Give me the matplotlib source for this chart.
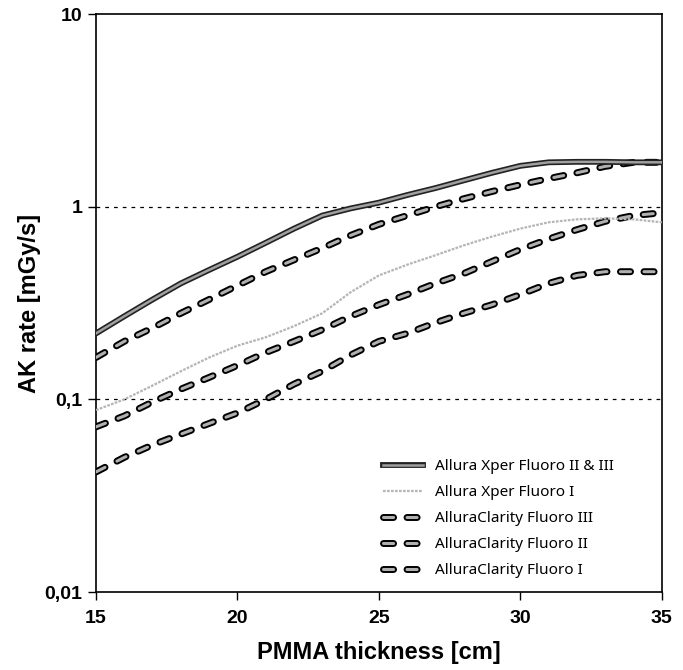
import numpy as np
import matplotlib
matplotlib.use('Agg')
import matplotlib.pyplot as plt
import matplotlib.patheffects as pe
from matplotlib.ticker import FixedLocator, FixedFormatter, NullLocator

# PMMA thickness [cm]
thickness = [15, 16, 17, 18, 19, 20, 21, 22, 23, 24, 25,
             26, 27, 28, 29, 30, 31, 32, 33, 34, 35]

# AK rate [mGy/s]
xper_2_3 = [0.22, 0.27, 0.33, 0.40, 0.47, 0.55, 0.65, 0.77, 0.90, 0.98, 1.05,
            1.15, 1.25, 1.37, 1.50, 1.63, 1.70, 1.71, 1.71, 1.70, 1.70]
xper_1 = [0.088, 0.10, 0.118, 0.14, 0.165, 0.19, 0.21, 0.24, 0.28, 0.36, 0.44,
          0.50, 0.56, 0.63, 0.70, 0.77, 0.83, 0.86, 0.87, 0.86, 0.83]
clarity_3 = [0.165, 0.20, 0.235, 0.28, 0.33, 0.39, 0.46, 0.53, 0.61, 0.71, 0.81,
             0.90, 1.00, 1.10, 1.20, 1.30, 1.40, 1.50, 1.62, 1.70, 1.70]
clarity_2 = [0.072, 0.082, 0.097, 0.113, 0.13, 0.15, 0.175, 0.20, 0.23, 0.27, 0.31,
             0.35, 0.40, 0.45, 0.52, 0.60, 0.68, 0.76, 0.84, 0.90, 0.93]
clarity_1 = [0.042, 0.05, 0.058, 0.066, 0.075, 0.085, 0.10, 0.12, 0.14, 0.17, 0.20,
             0.22, 0.25, 0.28, 0.31, 0.35, 0.40, 0.44, 0.46, 0.46, 0.46]

labels = ['Allura Xper Fluoro II & III', 'Allura Xper Fluoro I',
          'AlluraClarity Fluoro III', 'AlluraClarity Fluoro II',
          'AlluraClarity Fluoro I']

y_ticks = [0.01, 0.1, 1, 10]
y_ticklabels = ['0,01', '0,1', '1', '10']
x_ticks = [15, 20, 25, 30, 35]
x_ticklabels = ['15', '20', '25', '30', '35']

plt.rcParams['font.family'] = ['Noto Sans', 'DejaVu Sans']
bold_font = dict(family='Liberation Sans', fontweight='bold')

fig = plt.figure(figsize=(6.83, 6.70), dpi=100)
ax = fig.add_axes([0.1406, 0.1164, 0.8284, 0.8626])

# dashed reference lines at 1 and 0.1
for g in [0.1, 1]:
    ax.axhline(g, color='black', lw=0.9, ls=(0, (3, 4)), zorder=1)

outline_solid = [pe.Stroke(linewidth=4.2, foreground='#222222'), pe.Normal()]
outline_dash = [pe.Stroke(linewidth=5.0, foreground='black', capstyle='round'), pe.Normal()]

ax.plot(thickness, xper_2_3, color='#a0a0a0', lw=1.8,
        path_effects=outline_solid, label=labels[0], zorder=5)
ax.plot(thickness, xper_1, color='#b5b5b5', lw=1.6, ls=(0, (1.2, 0.6)),
        label=labels[1], zorder=4)
for vals, lab in zip([clarity_3, clarity_2, clarity_1], labels[2:]):
    ax.plot(thickness, vals, color='#b0b0b0', lw=2.2,
            dashes=(3.3, 4.4), dash_capstyle='round',
            path_effects=outline_dash, label=lab, zorder=3)

ax.set_yscale('log')
ax.set_xlim(15, 35)
ax.set_ylim(0.01, 10)
ax.yaxis.set_major_locator(FixedLocator(y_ticks))
ax.yaxis.set_minor_locator(NullLocator())
ax.set_yticklabels(y_ticklabels, fontsize=14, **bold_font)
ax.set_xticks(x_ticks)
ax.set_xticklabels(x_ticklabels, fontsize=14, **bold_font)

for s in ax.spines.values():
    s.set_linewidth(1.2)
    s.set_color('black')
ax.tick_params(axis='x', direction='out', length=6, width=1.0, pad=7)
ax.tick_params(axis='y', direction='out', length=6, width=1.0, pad=4)

ax.set_xlabel('PMMA thickness [cm]', fontsize=17, labelpad=10, **bold_font)
ax.set_ylabel('AK rate [mGy/s]', fontsize=17, labelpad=2, **bold_font)

leg = ax.legend(loc='lower right', bbox_to_anchor=(0.94, 0.0), frameon=False,
                fontsize=11, handlelength=2.6, labelspacing=0.72,
                handletextpad=0.8)

fig.savefig('out.png', dpi=100)
